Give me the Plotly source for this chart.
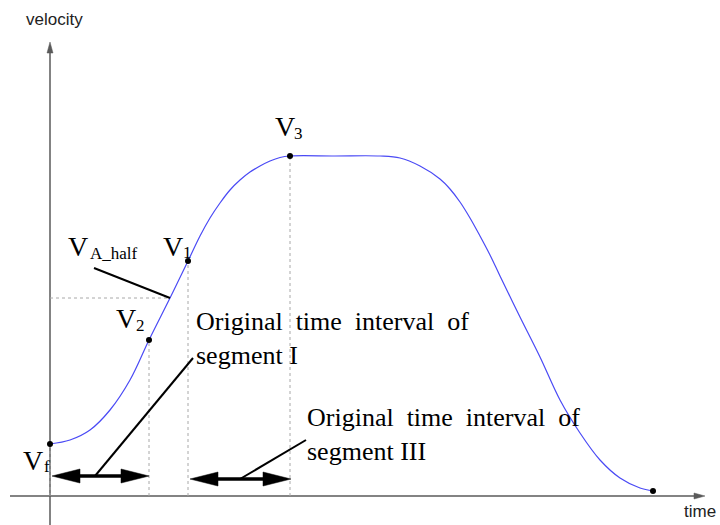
import plotly.graph_objects as go

# Velocity profile: time samples and velocity samples
time = [0.0, 2.0, 4.0, 6.0, 8.0, 9.9, 12.0, 13.8, 15.0, 16.0, 17.0, 18.0, 19.0,
        20.0, 21.0, 22.0, 23.0, 24.0, 28.5, 33.0, 35.0, 37.0, 39.0, 40.0, 41.0,
        42.0, 43.0, 44.0, 45.0, 47.0, 49.0, 51.0, 53.0, 55.0, 57.0, 59.0, 60.3]
velocity = [5.2, 5.6, 6.6, 8.6, 11.6, 15.6, 19.8, 23.5, 26.0, 27.8, 29.3, 30.6, 31.6,
            32.4, 33.0, 33.5, 33.85, 34.0, 34.0, 34.0, 33.8, 33.0, 31.7, 30.7, 29.4,
            27.8, 26.0, 24.1, 22.0, 17.9, 13.9, 9.6, 6.3, 3.6, 1.8, 0.8, 0.5]

# Marked points on the profile
point_names = ["Vf", "V2", "Vhalf", "V1", "V3", "end"]
point_time = [0.0, 9.9, 12.0, 13.8, 24.0, 60.3]
point_vel = [5.2, 15.6, 19.8, 23.5, 34.0, 0.5]
P = {n: (t, v) for n, t, v in zip(point_names, point_time, point_vel)}

W, H = 720, 525
X_RANGE = [-5.0, 67.0]
Y_RANGE = [-2.9, 49.6]
PX = (X_RANGE[1] - X_RANGE[0]) / W   # data units per pixel (same on both axes)

SERIF = "Liberation Serif, Times New Roman, serif"
SANS = "Liberation Sans, Arial, sans-serif"
AXIS_COLOR = "#5a5a5a"
DOT_COLOR = "#a8a8a8"

fig = go.Figure()


def line(xs, ys, color, width, dash="solid"):
    fig.add_trace(go.Scatter(x=xs, y=ys, mode="lines", hoverinfo="skip",
                             line=dict(color=color, width=width, dash=dash)))


def head(tx, ty, dx, dy, length_px, half_px, color):
    """Filled triangular arrow head with its tip at (tx, ty) pointing along (dx, dy)."""
    L, Hw = length_px * PX, half_px * PX
    bx, by = tx - dx * L, ty - dy * L
    px_, py_ = -dy * Hw, dx * Hw
    fig.add_trace(go.Scatter(
        x=[tx, bx + px_, bx - px_, tx], y=[ty, by + py_, by - py_, ty],
        mode="lines", fill="toself", fillcolor=color, hoverinfo="skip",
        line=dict(color=color, width=0.5)))


# Axes with arrow tips
X_AXIS = (-4.0, 65.5)
Y_AXIS = (-3.5, 45.4)
line([X_AXIS[0], X_AXIS[1] - 0.6], [0, 0], AXIS_COLOR, 1.5)
head(X_AXIS[1], 0, 1, 0, 11, 3, AXIS_COLOR)
line([0, 0], [Y_AXIS[0], Y_AXIS[1] - 0.6], AXIS_COLOR, 1.5)
head(0, Y_AXIS[1], 0, 1, 11, 3, AXIS_COLOR)

# Dotted projection lines
for n in ["Vf", "V2", "V1", "V3"]:
    t, v = P[n]
    line([t, t], [0, v], DOT_COLOR, 1, "dot")
line([0, P["Vhalf"][0]], [P["Vhalf"][1]] * 2, DOT_COLOR, 1, "dot")

# Velocity curve
fig.add_trace(go.Scatter(x=time, y=velocity, mode="lines", hoverinfo="skip",
                         line=dict(color="#4a4af5", width=1.2, shape="spline", smoothing=1.0)))

# Marked points
for n in ["Vf", "V2", "V1", "V3", "end"]:
    t, v = P[n]
    fig.add_trace(go.Scatter(x=[t], y=[v], mode="markers", hoverinfo="skip",
                             marker=dict(color="black", size=6)))

# Double-headed interval arrows (segment I: Vf -> V2, segment III: V1 -> V3)
SEG_I_V = 2.0
SEG_III_V = 1.7
HEAD_L, HEAD_HW = 28, 7


def double_arrow(t0, t1, v):
    line([t0 + HEAD_L * PX * 0.9, t1 - HEAD_L * PX * 0.9], [v, v], "black", 3.5)
    head(t0, v, -1, 0, HEAD_L, HEAD_HW, "black")
    head(t1, v, 1, 0, HEAD_L, HEAD_HW, "black")


double_arrow(P["Vf"][0] + 0.2, P["V2"][0], SEG_I_V)
double_arrow(P["V1"][0] + 0.2, P["V3"][0] + 0.1, SEG_III_V)

# Leader lines
LEAD_HALF = (4.4, 22.8)
LEAD_I = ((4.5, SEG_I_V), (14.3, 13.8))
LEAD_III = ((19.0, SEG_III_V), (25.6, 5.6))
line([LEAD_HALF[0], P["Vhalf"][0]], [LEAD_HALF[1], P["Vhalf"][1]], "black", 2)
line([LEAD_I[0][0], LEAD_I[1][0]], [LEAD_I[0][1], LEAD_I[1][1]], "black", 2)
line([LEAD_III[0][0], LEAD_III[1][0]], [LEAD_III[0][1], LEAD_III[1][1]], "black", 2)

annotations = []


def label(text, x, y, xanchor, yanchor, xshift, yshift, size=28, family=SERIF, align="left"):
    annotations.append(dict(text=text, x=x, y=y, xref="x", yref="y", showarrow=False,
                            xanchor=xanchor, yanchor=yanchor, xshift=xshift, yshift=yshift,
                            align=align, font=dict(family=family, size=size, color="black")))


def v_label(sub, anchor, v_dx, v_dy, s_dx, s_dy):
    """'V' with a subscript, offsets in pixels from the anchor point."""
    label("V", *anchor, "left", "middle", v_dx, v_dy, size=28)
    label(sub, *anchor, "left", "middle", s_dx, s_dy, size=17)


v_label("f", P["Vf"], -29, -16, -8, -22)
v_label("2", P["V2"], -35, 22, -15, 15)
v_label("1", P["V1"], -27, 15, -7, 9)
v_label("3", P["V3"], -17, 30, 2, 23)
v_label("A_half", LEAD_HALF, -28, 22, -6, 15)

label("Original&nbsp; time&nbsp; interval&nbsp; of<br>segment I", *LEAD_I[1],
      "left", "middle", 1, 20, size=26)
label("Original&nbsp; time&nbsp; interval&nbsp; of<br>segment III", *LEAD_III[1],
      "left", "middle", -1, 6, size=26)

annotations.append(dict(text="velocity", xref="paper", yref="paper", x=24 / W, y=1 - 20 / H,
                        xanchor="left", yanchor="middle", showarrow=False,
                        font=dict(family=SANS, size=17, color="#222")))
annotations.append(dict(text="time", xref="paper", yref="paper", x=718 / W, y=1 - 511 / H,
                        xanchor="right", yanchor="middle", showarrow=False,
                        font=dict(family=SANS, size=17, color="#222")))

fig.update_layout(
    width=W, height=H, autosize=False,
    margin=dict(l=0, r=0, t=0, b=0),
    paper_bgcolor="white", plot_bgcolor="white",
    showlegend=False,
    xaxis=dict(range=X_RANGE, visible=False, fixedrange=True),
    yaxis=dict(range=Y_RANGE, visible=False, fixedrange=True),
    annotations=annotations,
)

fig.write_html("out.html")
